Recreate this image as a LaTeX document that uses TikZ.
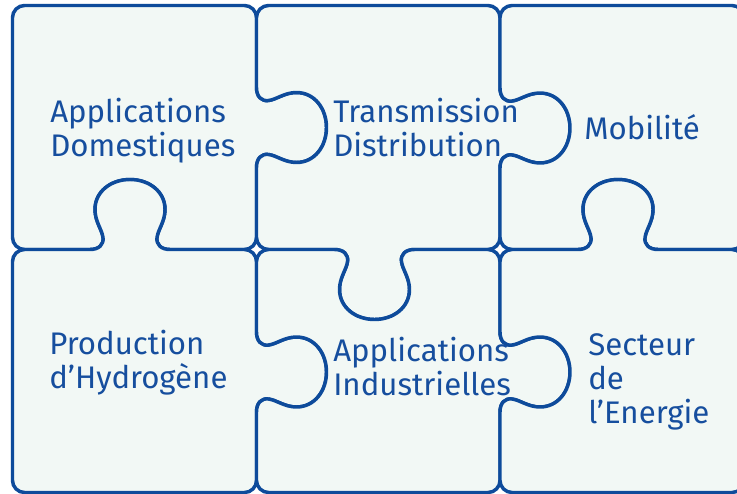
\documentclass[tikz,border=0pt]{standalone}
\usepackage{fontspec}
\setmainfont{Fira Sans}
\definecolor{pieceline}{RGB}{14,75,155}
\definecolor{piecefill}{RGB}{242,248,245}
\definecolor{piecetext}{RGB}{22,78,158}
\tikzset{
 piece/.style={draw=pieceline, fill=piecefill, line width=2.6pt, line join=round},
 label/.style={text=piecetext, font=\fontsize{23.4pt}{25.5pt}\selectfont, align=left, anchor=base west, inner sep=0pt},
 % knob on an edge: centre (#1,#2), direction of travel (#3,#4), side of the bulge (#5,#6)
 knob/.style n args={6}{insert path={
  -- ({#1-40*(#3)},{#2-40*(#4)})
  .. controls ({#1-31*(#3)},{#2-31*(#4)}) and ({#1-26*(#3)+5*(#5)},{#2-26*(#4)+5*(#6)}) .. ({#1-27*(#3)+12*(#5)},{#2-27*(#4)+12*(#6)})
  .. controls ({#1-28*(#3)+20*(#5)},{#2-28*(#4)+20*(#6)}) and ({#1-35*(#3)+28*(#5)},{#2-35*(#4)+28*(#6)}) .. ({#1-35*(#3)+40*(#5)},{#2-35*(#4)+40*(#6)})
  .. controls ({#1-35*(#3)+58*(#5)},{#2-35*(#4)+58*(#6)}) and ({#1-19*(#3)+70*(#5)},{#2-19*(#4)+70*(#6)}) .. ({#1+70*(#5)},{#2+70*(#6)})
  .. controls ({#1+19*(#3)+70*(#5)},{#2+19*(#4)+70*(#6)}) and ({#1+35*(#3)+58*(#5)},{#2+35*(#4)+58*(#6)}) .. ({#1+35*(#3)+40*(#5)},{#2+35*(#4)+40*(#6)})
  .. controls ({#1+35*(#3)+28*(#5)},{#2+35*(#4)+28*(#6)}) and ({#1+28*(#3)+20*(#5)},{#2+28*(#4)+20*(#6)}) .. ({#1+27*(#3)+12*(#5)},{#2+27*(#4)+12*(#6)})
  .. controls ({#1+26*(#3)+5*(#5)},{#2+26*(#4)+5*(#6)}) and ({#1+31*(#3)},{#2+31*(#4)}) .. ({#1+40*(#3)},{#2+40*(#4)})
 }}
}
\begin{document}
\begin{tikzpicture}[x=0.75pt, y=-0.75pt]
 \fill[white] (0,0) rectangle (737,493);
 \useasboundingbox (0,0) rectangle (737,493);
 % top row
 \draw[piece] (12.5,17.5) .. controls (12.5,10.9) and (17.9,5.5) .. (24.5,5.5)
  -- (244.5,5.5) .. controls (251.1,5.5) and (256.5,10.9) .. (256.5,17.5)
  [knob={256.5}{127.5}{0}{1}{1}{0}]
  -- (256.5,237.5) .. controls (256.5,244.1) and (251.1,249.5) .. (244.5,249.5)
  [knob={130}{249.5}{-1}{0}{0}{-1}]
  -- (24.5,249.5) .. controls (17.9,249.5) and (12.5,244.1) .. (12.5,237.5) -- cycle;
 \draw[piece] (256.5,17.5) .. controls (256.5,10.9) and (261.9,5.5) .. (268.5,5.5)
  -- (488,5.5) .. controls (494.6,5.5) and (500,10.9) .. (500,17.5)
  [knob={500}{128}{0}{1}{1}{0}]
  -- (500,237.5) .. controls (500,244.1) and (494.6,249.5) .. (488,249.5)
  [knob={374.5}{249.5}{-1}{0}{0}{1}]
  -- (268.5,249.5) .. controls (261.9,249.5) and (256.5,244.1) .. (256.5,237.5)
  [knob={256.5}{127.5}{0}{-1}{1}{0}] -- cycle;
 \draw[piece] (500,17.5) .. controls (500,10.9) and (505.4,5.5) .. (512,5.5)
  -- (732,5.5) .. controls (738.6,5.5) and (744,10.9) .. (744,17.5)
  -- (744,237.5) .. controls (744,244.1) and (738.6,249.5) .. (732,249.5)
  [knob={618}{249.5}{-1}{0}{0}{-1}]
  -- (512,249.5) .. controls (505.4,249.5) and (500,244.1) .. (500,237.5)
  [knob={500}{128}{0}{-1}{1}{0}] -- cycle;
 % bottom row
 \draw[piece] (12.5,261.5) .. controls (12.5,254.9) and (17.9,249.5) .. (24.5,249.5)
  [knob={130}{249.5}{1}{0}{0}{-1}]
  -- (244.5,249.5) .. controls (251.1,249.5) and (256.5,254.9) .. (256.5,261.5)
  [knob={256.5}{372}{0}{1}{1}{0}]
  -- (256.5,480.5) .. controls (256.5,487.1) and (251.1,492.5) .. (244.5,492.5)
  -- (24.5,492.5) .. controls (17.9,492.5) and (12.5,487.1) .. (12.5,480.5) -- cycle;
 \draw[piece] (256.5,261.5) .. controls (256.5,254.9) and (261.9,249.5) .. (268.5,249.5)
  [knob={374.5}{249.5}{1}{0}{0}{1}]
  -- (488,249.5) .. controls (494.6,249.5) and (500,254.9) .. (500,261.5)
  [knob={500}{372}{0}{1}{1}{0}]
  -- (500,480.5) .. controls (500,487.1) and (494.6,492.5) .. (488,492.5)
  -- (268.5,492.5) .. controls (261.9,492.5) and (256.5,487.1) .. (256.5,480.5)
  [knob={256.5}{372}{0}{-1}{1}{0}] -- cycle;
 \draw[piece] (500,261.5) .. controls (500,254.9) and (505.4,249.5) .. (512,249.5)
  [knob={618}{249.5}{1}{0}{0}{-1}]
  -- (732,249.5) .. controls (738.6,249.5) and (744,254.9) .. (744,261.5)
  -- (744,480.5) .. controls (744,487.1) and (738.6,492.5) .. (732,492.5)
  -- (512,492.5) .. controls (505.4,492.5) and (500,487.1) .. (500,480.5)
  [knob={500}{372}{0}{-1}{1}{0}] -- cycle;
 % labels (base = last line)
 \node[label] (appdom) at (50,156.5) {Applications\\Domestiques};
 \node[label] (transdist) at (333,156.5) {Transmission\\Distribution};
 \node[label] (mobilite) at (584,139) {Mobilité};
 \node[label] (prodh) at (49,388) {Production\\d’Hydrogène};
 \node[label] (appind) at (333,395) {Applications\\Industrielles};
 \node[label] (secteur) at (588,423) {Secteur\\de\\l’Energie};
\end{tikzpicture}
\end{document}
